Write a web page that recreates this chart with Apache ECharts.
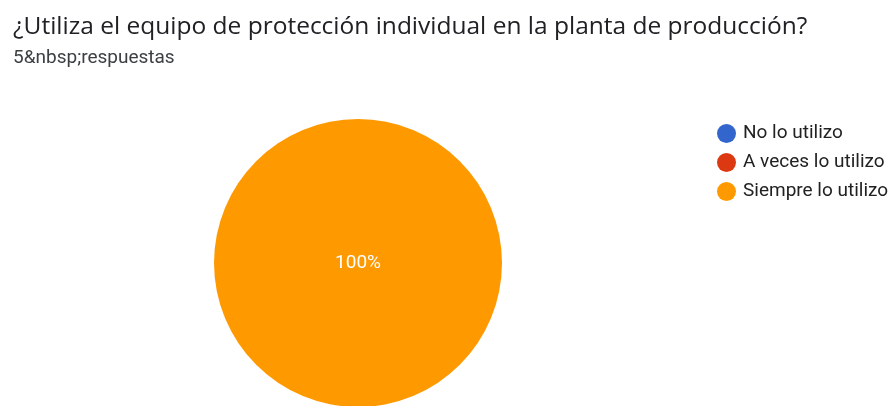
<!DOCTYPE html>
<html>
<head>
<meta charset="utf-8">
<script src="https://cdn.jsdelivr.net/npm/echarts@6/dist/echarts.min.js"></script>
<style>
  html, body { margin: 0; padding: 0; background: #fff; }
  #chart { width: 894px; height: 406px; }
</style>
</head>
<body>
<div id="chart"></div>
<script>
// respuestas por opción
var categories = ['No lo utilizo', 'A veces lo utilizo', 'Siempre lo utilizo'];
var counts = [0, 0, 5];
var colors = ['#3366cc', '#dc3912', '#ff9900'];

var total = counts.reduce(function (a, b) { return a + b; }, 0);

var chart = echarts.init(document.getElementById('chart'));

chart.setOption({
  animation: false,
  title: {
    text: '¿Utiliza el equipo de protección individual en la planta de producción?',
    subtext: '5&nbsp;respuestas',
    left: 8,
    top: 10,
    itemGap: 9,
    textStyle: { fontFamily: 'Open Sans', fontSize: 24.5, fontWeight: 'normal', color: '#202124' },
    subtextStyle: { fontFamily: 'Roboto', fontSize: 19, color: '#3c4043' }
  },
  legend: {
    orient: 'vertical',
    left: 712,
    top: 119,
    icon: 'circle',
    itemWidth: 19,
    itemHeight: 19,
    itemGap: 10,
    textStyle: { fontFamily: 'Roboto', fontSize: 19, color: '#222', padding: [0, 0, 0, 2] },
    data: categories
  },
  series: [{
    type: 'pie',
    center: [358, 263],
    radius: [0, 144],
    startAngle: 90,
    clockwise: true,
    stillShowZeroSum: true,
    labelLine: { show: false },
    label: {
      position: 'center',
      color: '#fff',
      fontFamily: 'Roboto',
      fontSize: 19,
      formatter: function (p) {
        return p.value > 0 ? Math.round(p.value / total * 100) + '%' : '';
      }
    },
    emphasis: { disabled: true },
    data: categories.map(function (c, i) {
      return { name: c, value: counts[i], itemStyle: { color: colors[i] } };
    })
  }]
});
</script>
</body>
</html>
